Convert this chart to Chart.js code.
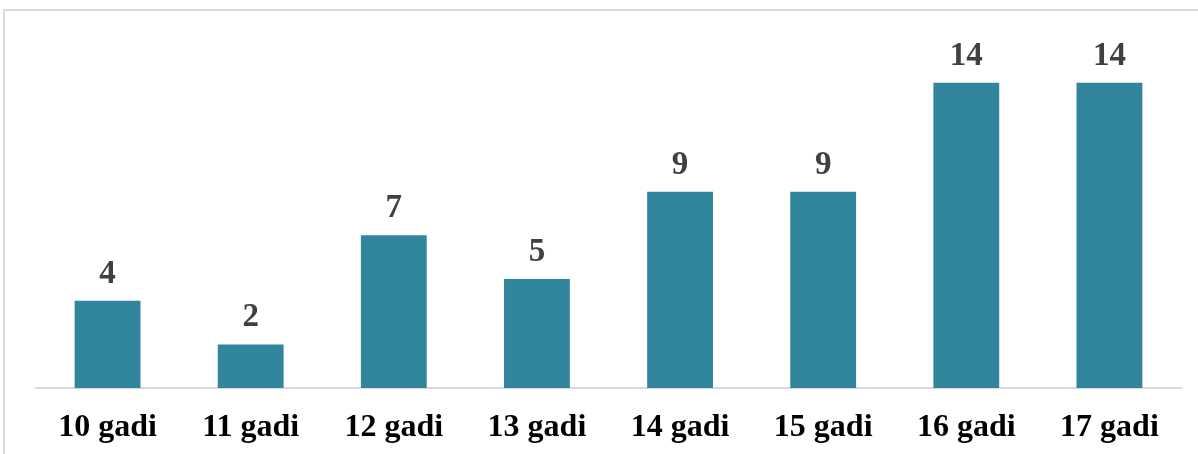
<!DOCTYPE html>
<html>
<head>
<meta charset="utf-8">
<script src="https://cdn.jsdelivr.net/npm/chart.js@4"></script>
<style>
  html, body { margin: 0; padding: 0; width: 1198px; height: 454px; overflow: hidden; background: #fff; }
  #frame { position: absolute; left: 3px; top: 9px; width: 1300px; height: 600px; border: 2px solid #d9d9d9; }
  #wrap { position: absolute; left: 0; top: 0; width: 1198px; height: 454px; }
</style>
</head>
<body>
<div id="frame"></div>
<div id="wrap"><canvas id="chart" width="1198" height="454"></canvas></div>
<script>
// Data
const categories = ["10 gadi", "11 gadi", "12 gadi", "13 gadi", "14 gadi", "15 gadi", "16 gadi", "17 gadi"];
const counts = [4, 2, 7, 5, 9, 9, 14, 14];

const barColor = "#31859c";
const serif = "'Liberation Serif', 'Times New Roman', serif";

// Value labels above each bar
const valueLabels = {
  id: "valueLabels",
  afterDatasetsDraw(chart) {
    const ctx = chart.ctx;
    const meta = chart.getDatasetMeta(0);
    ctx.save();
    ctx.font = "bold 33px " + serif;
    ctx.fillStyle = "#404040";
    ctx.textAlign = "center";
    ctx.textBaseline = "alphabetic";
    meta.data.forEach((bar, i) => {
      ctx.fillText(String(counts[i]), bar.x, bar.y - 18);
    });
    ctx.restore();
  },
};

new Chart(document.getElementById("chart"), {
  type: "bar",
  data: {
    labels: categories,
    datasets: [
      {
        data: counts,
        backgroundColor: barColor,
        categoryPercentage: 1,
        barPercentage: 0.46,
      },
    ],
  },
  options: {
    responsive: false,
    animation: false,
    layout: { padding: { left: 36, right: 17, top: 39, bottom: 0 } },
    plugins: {
      legend: { display: false },
      tooltip: { enabled: false },
    },
    scales: {
      x: {
        grid: { display: false, drawTicks: false },
        border: { display: true, color: "#d9d9d9", width: 2 },
        ticks: {
          color: "#000",
          font: { family: serif, size: 32, weight: "bold" },
          padding: 21,
          maxRotation: 0,
          autoSkip: false,
        },
        afterFit(scale) { scale.height = 66; },
      },
      y: {
        display: false,
        min: 0,
        max: 16,
      },
    },
  },
  plugins: [valueLabels],
});
</script>
</body>
</html>
